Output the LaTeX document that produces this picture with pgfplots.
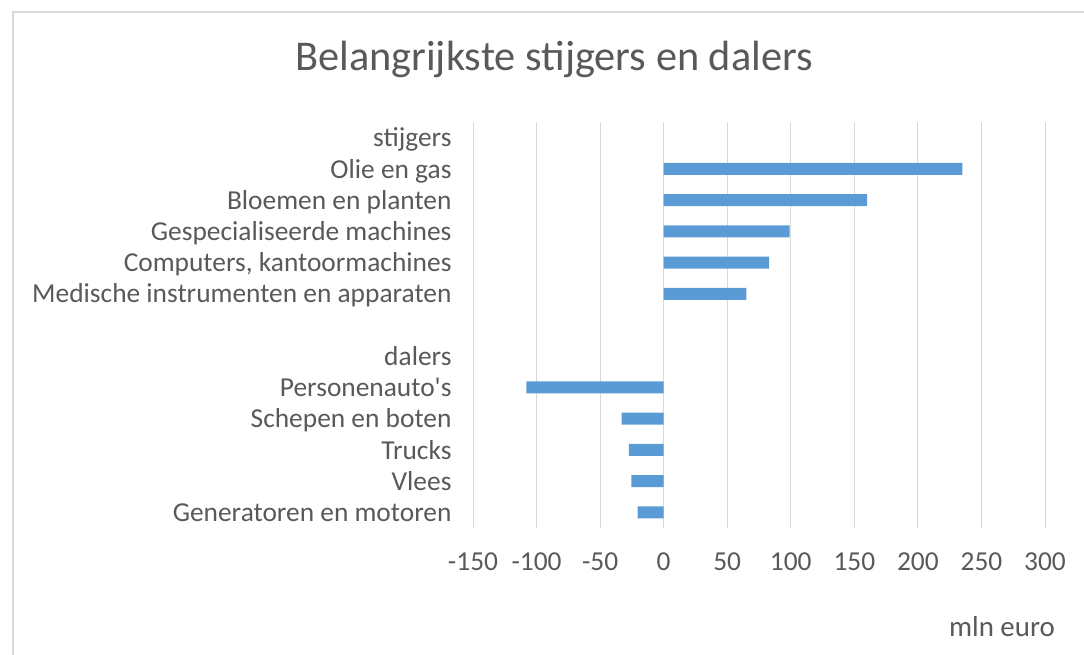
\documentclass[border=0pt]{standalone}
\usepackage{fontspec}
\setmainfont{Carlito}
\newfontfamily\plainfont{Carlito}
\usepackage{pgfplots}
\pgfplotsset{compat=1.18}
\definecolor{txt}{HTML}{595959}
\definecolor{gridc}{HTML}{D9D9D9}
\definecolor{barblue}{HTML}{5B9BD5}
\definecolor{framec}{HTML}{D9D9D9}
\begin{document}
\begin{tikzpicture}[x=1bp,y=1bp]
\useasboundingbox (0,0) rectangle (1084,655);
\draw[framec, line width=1.5bp] (13,0) -- (13,643) -- (1084,643);
\node[txt, font=\fontsize{42.5}{48}\selectfont] at (554,596) {Belangrijkste stijgers en dalers};
\node[txt, font=\fontsize{29}{34}\selectfont] at (1002,28) {mln euro};
\begin{axis}[
  at={(473bp,127bp)}, anchor=south west,
  scale only axis, width=572bp, height=406bp,
  xmin=-150, xmax=300, ymin=-0.5, ymax=12.5,
  xbar, bar width=12bp,
  axis line style={draw=none},
  major tick length=0pt,
  xmajorgrids, grid style={gridc, line width=1bp},
  xtick={-150,-100,-50,0,50,100,150,200,250,300},
  xticklabels={-150,-100,-50,0,50,100,150,200,250,300},
  ytick={0,1,2,3,4,5,6,7,8,9,10,11,12},
  yticklabels={Generatoren en motoren,Vlees,Trucks,Schepen en boten,Personenauto{\plainfont'}s,dalers,{},Medische instrumenten en apparaten,{Computers, kantoormachines},Gespecialiseerde machines,Bloemen en planten,Olie en gas,stijgers},
  tick label style={txt, font=\fontsize{27.5}{32}\selectfont},
  xticklabel style={yshift=-21bp},
  yticklabel style={xshift=-18bp, yshift=-6bp, text height=0.7em, text depth=0.06em},
  /pgf/number format/assume math mode=true,
]
\addplot[fill=barblue, draw=none] coordinates {
  (-20.5,0) (-25.5,1) (-27.4,2) (-33,3) (-108,4)
  (65,7) (83,8) (99,9) (160,10) (235,11)
};
\end{axis}
\end{tikzpicture}
\end{document}
